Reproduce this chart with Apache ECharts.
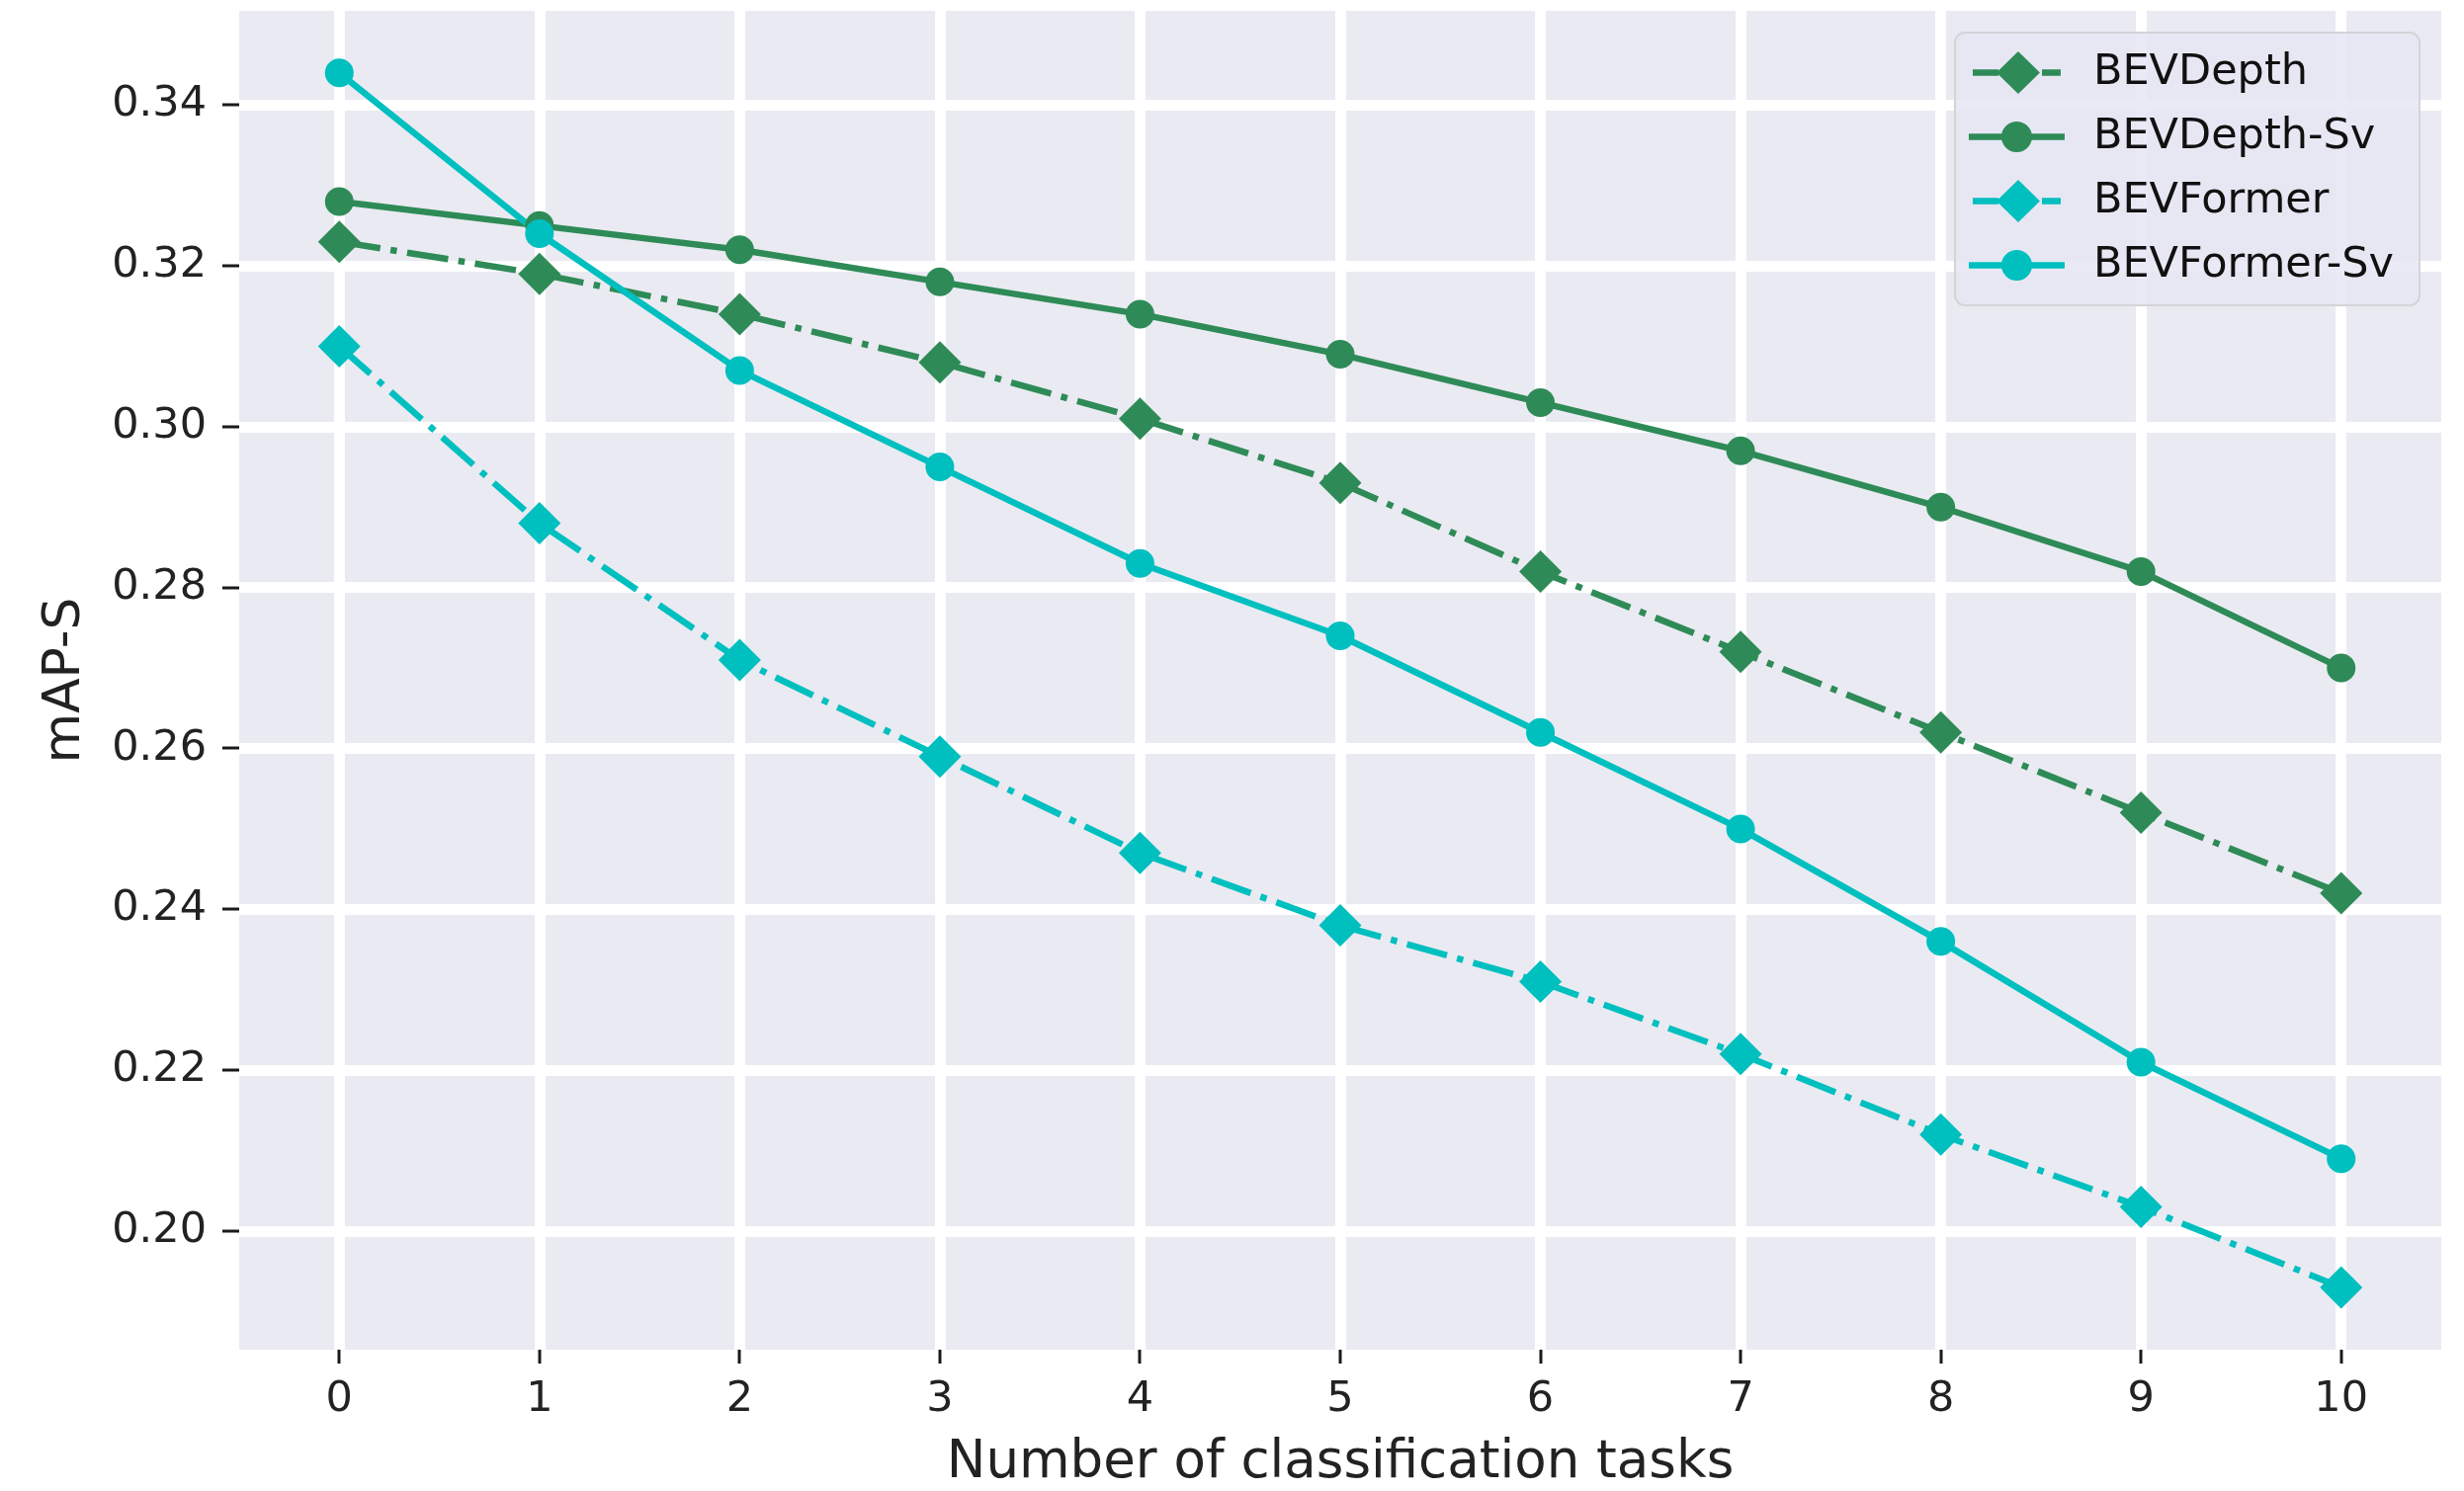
<!DOCTYPE html>
<html>
<head>
<meta charset="utf-8">
<script src="https://cdn.jsdelivr.net/npm/echarts@6/dist/echarts.min.js"></script>
<style>
html,body{margin:0;padding:0;background:#fff;}
#chart{width:2493px;height:1509px;}
</style>
</head>
<body>
<div id="chart"></div>
<script>
const xTicks = [0,1,2,3,4,5,6,7,8,9,10];
const yTicks = [0.20,0.22,0.24,0.26,0.28,0.30,0.32,0.34];
const seriesNames = ['BEVDepth','BEVDepth-Sv','BEVFormer','BEVFormer-Sv'];
const bevDepth    = [0.323,0.319,0.314,0.308,0.301,0.293,0.282,0.272,0.262,0.252,0.242];
const bevDepthSv  = [0.328,0.325,0.322,0.318,0.314,0.309,0.303,0.297,0.290,0.282,0.270];
const bevFormer   = [0.310,0.288,0.271,0.259,0.247,0.238,0.231,0.222,0.212,0.203,0.193];
const bevFormerSv = [0.344,0.324,0.307,0.295,0.283,0.274,0.262,0.250,0.236,0.221,0.209];

const GREEN = '#2E8B57', CYAN = '#00BFBF';
const FONT = 'DejaVu Sans';
const LW = 6.5;
const dashDot = [42, 10.5, 6.5, 10.5];
const X_MIN = -0.5, X_MAX = 10.5, Y_MIN = 0.18525, Y_MAX = 0.3517;

// legend icons: line segment + marker (matplotlib-style handles)
const ICON_DIAMOND_DASH = 'path://M0 18.25H26V24.75H0Z M46 0L68 21.5L46 43L24 21.5Z M70 18.25H89V24.75H70Z';
const ICON_CIRCLE_LINE  = 'path://M0 12.25H97V18.75H0Z M33 15.5A15.5 15.5 0 1 1 64 15.5A15.5 15.5 0 1 1 33 15.5Z';

function pairs(vals){ return xTicks.map((x,i)=>[x, vals[i]]); }
function mk(name, vals, color, symbol, size, dashed){
  return {
    name, type:'line', data: pairs(vals),
    symbol, symbolSize: size, showSymbol:true,
    itemStyle:{color},
    lineStyle:{color, width:LW, type: dashed ? dashDot : 'solid', cap:'butt'},
    emphasis:{disabled:true}
  };
}

const chart = echarts.init(document.getElementById('chart'), null, {renderer:'canvas'});
chart.setOption({
  animation:false,
  textStyle:{fontFamily:FONT},
  grid:{left:242, right:23, top:11, bottom:143, show:true, backgroundColor:'#EAEAF2', borderWidth:0,
        outerBoundsMode:'none', containLabel:false},
  xAxis:{
    type:'value', min:X_MIN, max:X_MAX,
    name:'Number of classification tasks', nameLocation:'middle', nameGap:89,
    nameTextStyle:{fontFamily:FONT, fontSize:53, color:'#222'},
    axisLine:{show:false, onZero:false},
    // ticks define grid-line positions; the visible tick marks are drawn below
    axisTick:{show:true, length:14, customValues:xTicks, lineStyle:{color:'rgba(0,0,0,0)', width:3}},
    axisLabel:{customValues:xTicks, fontFamily:FONT, fontSize:43, color:'#222', margin:29},
    splitLine:{show:true, lineStyle:{color:'#fff', width:11}}
  },
  yAxis:{
    type:'value', min:Y_MIN, max:Y_MAX,
    name:'mAP-S', nameLocation:'middle', nameGap:150, nameRotate:90,
    nameTextStyle:{fontFamily:FONT, fontSize:52, color:'#222'},
    axisLine:{show:false, onZero:false},
    axisTick:{show:true, length:16, customValues:yTicks, lineStyle:{color:'rgba(0,0,0,0)', width:3}},
    axisLabel:{customValues:yTicks, fontFamily:FONT, fontSize:43, color:'#222', margin:33,
      formatter:v=>v.toFixed(2)},
    splitLine:{show:true, lineStyle:{color:'#fff', width:11}}
  },
  legend:{
    data:[
      {name:seriesNames[0], icon:ICON_DIAMOND_DASH},
      {name:seriesNames[1], icon:ICON_CIRCLE_LINE},
      {name:seriesNames[2], icon:ICON_DIAMOND_DASH},
      {name:seriesNames[3], icon:ICON_CIRCLE_LINE}
    ],
    orient:'vertical', right:45, top:33,
    itemWidth:97, itemHeight:43, itemGap:22,
    symbolKeepAspect:true,
    padding:[19,26,19,14],
    backgroundColor:'rgba(230,230,245,0.85)', borderColor:'#d4d4d8', borderWidth:2, borderRadius:10,
    textStyle:{fontFamily:FONT, fontSize:43, lineHeight:43, color:'#111', padding:[0,0,0,24]}
  },
  series:[
    mk(seriesNames[0], bevDepth, GREEN, 'diamond', 43, true),
    mk(seriesNames[1], bevDepthSv, GREEN, 'circle', 29, false),
    mk(seriesNames[2], bevFormer, CYAN, 'diamond', 43, true),
    mk(seriesNames[3], bevFormerSv, CYAN, 'circle', 29, false)
  ]
});

// Outward tick marks, positioned through the chart's own scales
function addTicks(){
  const ticks = [];
  xTicks.forEach(v => {
    const p = chart.convertToPixel({xAxisIndex:0, yAxisIndex:0}, [v, Y_MIN]);
    ticks.push({type:'rect', silent:true, z:100, zlevel:1,
      shape:{x:Math.round(p[0]) - 1.5, y:Math.round(p[1]), width:3, height:14}, style:{fill:'#1a1a1a'}});
  });
  yTicks.forEach(v => {
    const p = chart.convertToPixel({xAxisIndex:0, yAxisIndex:0}, [X_MIN, v]);
    ticks.push({type:'rect', silent:true, z:100, zlevel:1,
      shape:{x:Math.round(p[0]) - 17, y:Math.round(p[1]) - 1.5, width:17, height:3}, style:{fill:'#1a1a1a'}});
  });
  chart.setOption({graphic: ticks});
}
addTicks();
</script>
</body>
</html>
